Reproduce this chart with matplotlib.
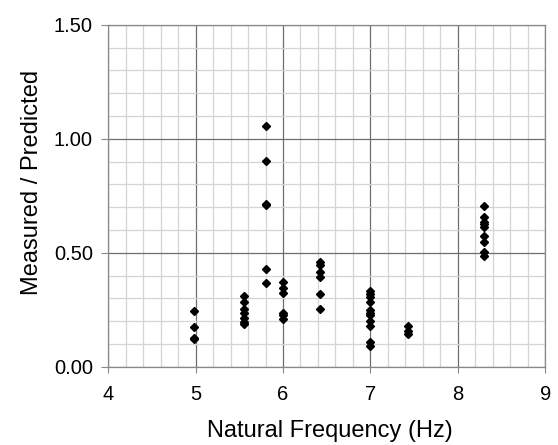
"""Measured / predicted ratio against natural frequency."""

import matplotlib

matplotlib.use("Agg")
import matplotlib.pyplot as plt  # noqa: E402
import numpy as np  # noqa: E402
from matplotlib.ticker import MultipleLocator  # noqa: E402

# one column of points per frequency
freqs = [4.98, 5.55, 5.80, 6.00, 6.42, 7.00, 7.43, 8.30]
ratios = [
    [0.245, 0.175, 0.125, 0.12],
    [0.312, 0.283, 0.252, 0.235, 0.213, 0.198, 0.186],
    [1.057, 0.904, 0.716, 0.710, 0.430, 0.366],
    [0.370, 0.347, 0.325, 0.237, 0.227, 0.209],
    [0.458, 0.446, 0.416, 0.394, 0.319, 0.255],
    [0.332, 0.318, 0.305, 0.285, 0.249, 0.237, 0.227, 0.201, 0.180, 0.110, 0.091],
    [0.179, 0.155, 0.145],
    [0.707, 0.657, 0.637, 0.625, 0.615, 0.575, 0.546, 0.502, 0.486],
]
x_ticks = [4, 5, 6, 7, 8, 9]
y_ticks = [0.0, 0.5, 1.0, 1.5]

plt.rcParams["font.family"] = ["Liberation Sans", "DejaVu Sans"]

fig = plt.figure(figsize=(5.58, 4.45), dpi=100)
ax = fig.add_axes([0.194, 0.176, 0.783, 0.768])

xs = np.concatenate([[f] * len(r) for f, r in zip(freqs, ratios)])
ys = np.concatenate(ratios)
ax.plot(xs, ys, linestyle="none", marker="D", markersize=4.2,
        color="black", zorder=3)

ax.set_xlim(4, 9)
ax.set_ylim(0, 1.5)
ax.set_xticks(x_ticks)
ax.set_yticks(y_ticks)
ax.set_yticklabels([f"{v:.2f}" for v in y_ticks])
ax.xaxis.set_minor_locator(MultipleLocator(0.2))
ax.yaxis.set_minor_locator(MultipleLocator(0.1))

ax.grid(which="minor", color="#d4d4d4", linewidth=0.9)
ax.grid(which="major", color="#6e6e6e", linewidth=0.9)
ax.set_axisbelow(True)

ax.tick_params(which="major", direction="out", width=0.8,
               color="#888888", labelsize=14.5)
ax.tick_params(axis="x", which="major", length=4, pad=9)
ax.tick_params(axis="y", which="major", length=5, pad=6)
ax.tick_params(which="minor", length=0)
for s in ax.spines.values():
    s.set_color("#888888")
    s.set_linewidth(0.9)

ax.set_xlabel("Natural Frequency (Hz)", fontsize=17, labelpad=12, x=0.508)
ax.set_ylabel("Measured / Predicted", fontsize=17, labelpad=8, y=0.54)

fig.savefig("out.png", dpi=100, facecolor="white")
